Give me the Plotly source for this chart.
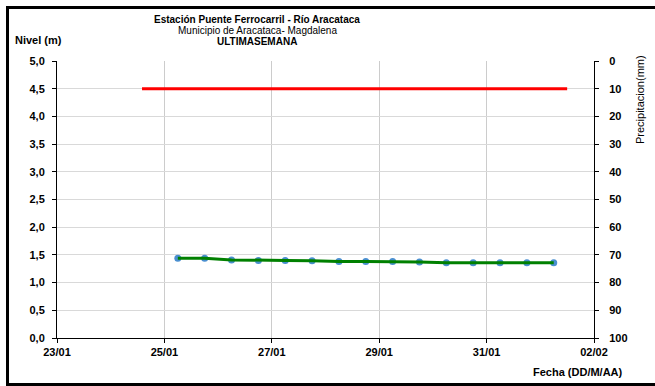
import plotly.graph_objects as go

W, H = 655, 386
L, R, T, B = 57, 594, 61, 338  # plot area in pixels

# ---- data ----
nivel_fechas = ["2014-01-25 06:00", "2014-01-25 18:00", "2014-01-26 06:00", "2014-01-26 18:00",
                "2014-01-27 06:00", "2014-01-27 18:00", "2014-01-28 06:00", "2014-01-28 18:00",
                "2014-01-29 06:00", "2014-01-29 18:00", "2014-01-30 06:00", "2014-01-30 18:00",
                "2014-01-31 06:00", "2014-01-31 18:00", "2014-02-01 06:00"]
nivel_valores = [1.44, 1.44, 1.41, 1.40, 1.40, 1.395, 1.38, 1.38, 1.38, 1.37, 1.36, 1.36, 1.36, 1.36, 1.36]
alerta_fechas = ["2014-01-24 14:00", "2014-02-01 12:00"]
alerta_valores = [4.5, 4.5]
x_rango = ["2014-01-23", "2014-02-02"]
titulo = ["Estación Puente Ferrocarril - Río Aracataca", "Municipio de Aracataca- Magdalena", "ULTIMASEMANA"]


def px(x):
    return (x - L) / (R - L)


def py(y):
    return (B - y) / (B - T)


fig = go.Figure()
fig.add_trace(go.Scatter(x=alerta_fechas, y=alerta_valores, mode="lines",
                         line=dict(color="#ff0000", width=3), showlegend=False))
fig.add_trace(go.Scatter(x=nivel_fechas, y=nivel_valores, mode="markers",
                         marker=dict(color="#4a8fd0", size=7), showlegend=False))
fig.add_trace(go.Scatter(x=nivel_fechas, y=nivel_valores, mode="lines",
                         line=dict(color="#008000", width=3), showlegend=False))
fig.add_trace(go.Scatter(x=x_rango, y=[None, None], yaxis="y2", mode="lines",
                         showlegend=False, hoverinfo="skip"))

bold_tick = dict(family="Liberation Sans, Arial", size=11, color="black", weight="bold")

fig.update_layout(
    width=W, height=H,
    margin=dict(l=L, r=W - R, t=T, b=H - B, pad=0, autoexpand=False),
    paper_bgcolor="white", plot_bgcolor="white",
    separators=",.",
    font=dict(family="Liberation Sans, Arial", color="black"),
    xaxis=dict(type="date", range=x_rango, tick0="2014-01-23", dtick=2 * 86400000,
               tickformat="%d/%m", showgrid=True, gridcolor="#cccccc", gridwidth=1,
               showline=True, linecolor="black", linewidth=1,
               ticks="outside", ticklen=4, tickcolor="black",
               tickfont=bold_tick, zeroline=False),
    yaxis=dict(range=[0, 5], dtick=0.5, tickformat=".1f", showgrid=True, gridcolor="#d9d9d9",
               gridwidth=1, showline=True, linecolor="black", linewidth=1,
               ticks="outside", ticklen=4, tickcolor="black", ticklabelstandoff=5,
               tickfont=bold_tick, zeroline=False),
    yaxis2=dict(range=[100, 0], dtick=10, overlaying="y", side="right", showgrid=False,
                showline=True, linecolor="black", linewidth=1,
                ticks="outside", ticklen=4, tickcolor="black", ticklabelstandoff=8,
                tickfont=bold_tick, zeroline=False),
)

ann = []
ann.append(dict(x=px(257), y=py(20), text="<b>" + titulo[0] + "</b>", font=dict(size=10)))
ann.append(dict(x=px(257), y=py(30.5), text=titulo[1], font=dict(size=10)))
ann.append(dict(x=px(257), y=py(41), text="<b>" + titulo[2] + "</b>", font=dict(size=10)))
ann.append(dict(x=px(13), y=py(40), text="<b>Nivel (m)</b>", font=dict(size=11), xanchor="left"))
ann.append(dict(x=px(625), y=py(372), text="<b>Fecha (DD/M/AA)</b>", font=dict(size=11), xanchor="right"))
ann.append(dict(x=px(640), y=py(100), text="Precipitacion(mm)", font=dict(size=11), textangle=-90))
for a in ann:
    a.setdefault("xanchor", "center")
    a.update(xref="paper", yref="paper", yanchor="middle", showarrow=False)
    a["font"].update(family="Liberation Sans, Arial", color="black")
fig.update_layout(annotations=ann)

fig.add_shape(type="rect", xref="paper", yref="paper",
              x0=px(7.5), x1=px(658), y0=py(384.5), y1=py(7.5),
              line=dict(color="black", width=3), layer="above")

fig.write_html("out.html", config={"displayModeBar": False},
               post_script="document.body.style.margin='0';document.body.style.overflow='hidden';")
